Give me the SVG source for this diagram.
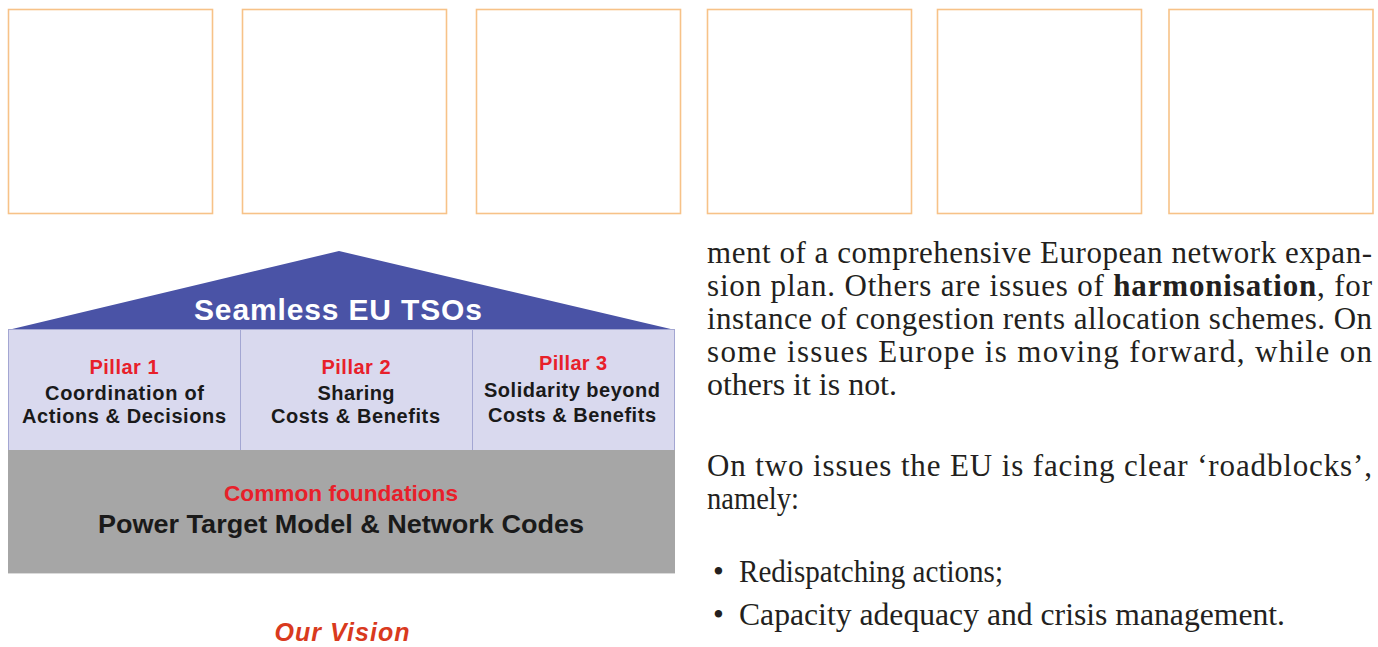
<svg xmlns="http://www.w3.org/2000/svg" width="1378" height="647" viewBox="0 0 1378 647">
<style>
.box{fill:#fff;stroke:#F7C288;stroke-width:1.6}
.sans{font-family:"Liberation Sans",Arial,sans-serif;font-weight:bold}
.pt{font-size:20px;text-anchor:middle}
.red{fill:#E8202A}
.blk{fill:#1a1a1a}
.serif{font-family:"Liberation Serif","Times New Roman",serif;font-size:31px;fill:#231F20}
.div{stroke:#A3A6D2;stroke-width:1}
</style>
<rect width="1378" height="647" fill="#fff"/>
<g id="frames">
<rect class="box" x="8.5" y="9.5" width="204" height="204"/>
<rect class="box" x="242.5" y="9.5" width="204" height="204"/>
<rect class="box" x="476.5" y="9.5" width="204" height="204"/>
<rect class="box" x="707.5" y="9.5" width="204" height="204"/>
<rect class="box" x="937.5" y="9.5" width="204" height="204"/>
<rect class="box" x="1169" y="9.5" width="204" height="204"/>
</g>
<g id="roof">
<polygon points="8,330 339,251 675,330" fill="#4A53A6"/>
<text class="sans" x="338" y="320" font-size="30" fill="#fff" text-anchor="middle" textLength="288" lengthAdjust="spacing">Seamless EU TSOs</text>
</g>
<g id="pillars">
<rect x="8.5" y="329.5" width="666" height="121" fill="#D9D9EE" stroke="#A3A6D2" stroke-width="1"/>
<line class="div" x1="240.5" y1="330" x2="240.5" y2="450"/>
<line class="div" x1="472.5" y1="330" x2="472.5" y2="450"/>
</g>
<g id="pillar1" class="sans pt">
<text class="red" x="124" y="374" textLength="69">Pillar 1</text>
<text class="blk" x="124.5" y="400" textLength="159">Coordination of</text>
<text class="blk" x="124" y="423" textLength="204">Actions &amp; Decisions</text>
</g>
<g id="pillar2" class="sans pt">
<text class="red" x="356" y="374" textLength="69">Pillar 2</text>
<text class="blk" x="356" y="400" textLength="77">Sharing</text>
<text class="blk" x="355.5" y="423" textLength="169">Costs &amp; Benefits</text>
</g>
<g id="pillar3" class="sans pt">
<text class="red" x="573" y="370" textLength="68">Pillar 3</text>
<text class="blk" x="572" y="397" textLength="176">Solidarity beyond</text>
<text class="blk" x="572" y="422" textLength="168">Costs &amp; Benefits</text>
</g>
<g id="foundation">
<rect x="8" y="450" width="667" height="123" fill="#A6A6A6"/>
<line x1="8" y1="573.5" x2="675" y2="573.5" stroke="#DADADA" stroke-width="1"/>
<text class="sans red" x="341" y="501" font-size="22.5" text-anchor="middle" textLength="234" lengthAdjust="spacingAndGlyphs">Common foundations</text>
<text class="sans blk" x="341" y="533" font-size="26.5" text-anchor="middle" textLength="486" lengthAdjust="spacingAndGlyphs">Power Target Model &amp; Network Codes</text>
</g>
<g id="caption">
<text class="sans" x="342" y="641" font-size="25" font-style="italic" fill="#D93A1E" text-anchor="middle" textLength="135">Our Vision</text>
</g>
<g id="connectors"/>
<g id="bodytext" class="serif">
<text x="707" y="263" textLength="665" lengthAdjust="spacing">ment of a comprehensive European network expan-</text>
<text x="707" y="296" textLength="665" lengthAdjust="spacing">sion plan. Others are issues of <tspan font-weight="bold">harmonisation</tspan>, for</text>
<text x="707" y="329" textLength="665" lengthAdjust="spacing">instance of congestion rents allocation schemes. On</text>
<text x="707" y="362" textLength="665" lengthAdjust="spacing">some issues Europe is moving forward, while on</text>
<text x="707" y="395" textLength="190" lengthAdjust="spacingAndGlyphs">others it is not.</text>
<text x="707" y="476" textLength="665" lengthAdjust="spacing">On two issues the EU is facing clear ‘roadblocks’,</text>
<text x="707" y="509" textLength="92" lengthAdjust="spacingAndGlyphs">namely:</text>
<text x="713" y="582">•</text>
<text x="739" y="582" textLength="264" lengthAdjust="spacingAndGlyphs">Redispatching actions;</text>
<text x="713" y="625">•</text>
<text x="739" y="625" textLength="546" lengthAdjust="spacingAndGlyphs">Capacity adequacy and crisis management.</text>
</g>
</svg>
